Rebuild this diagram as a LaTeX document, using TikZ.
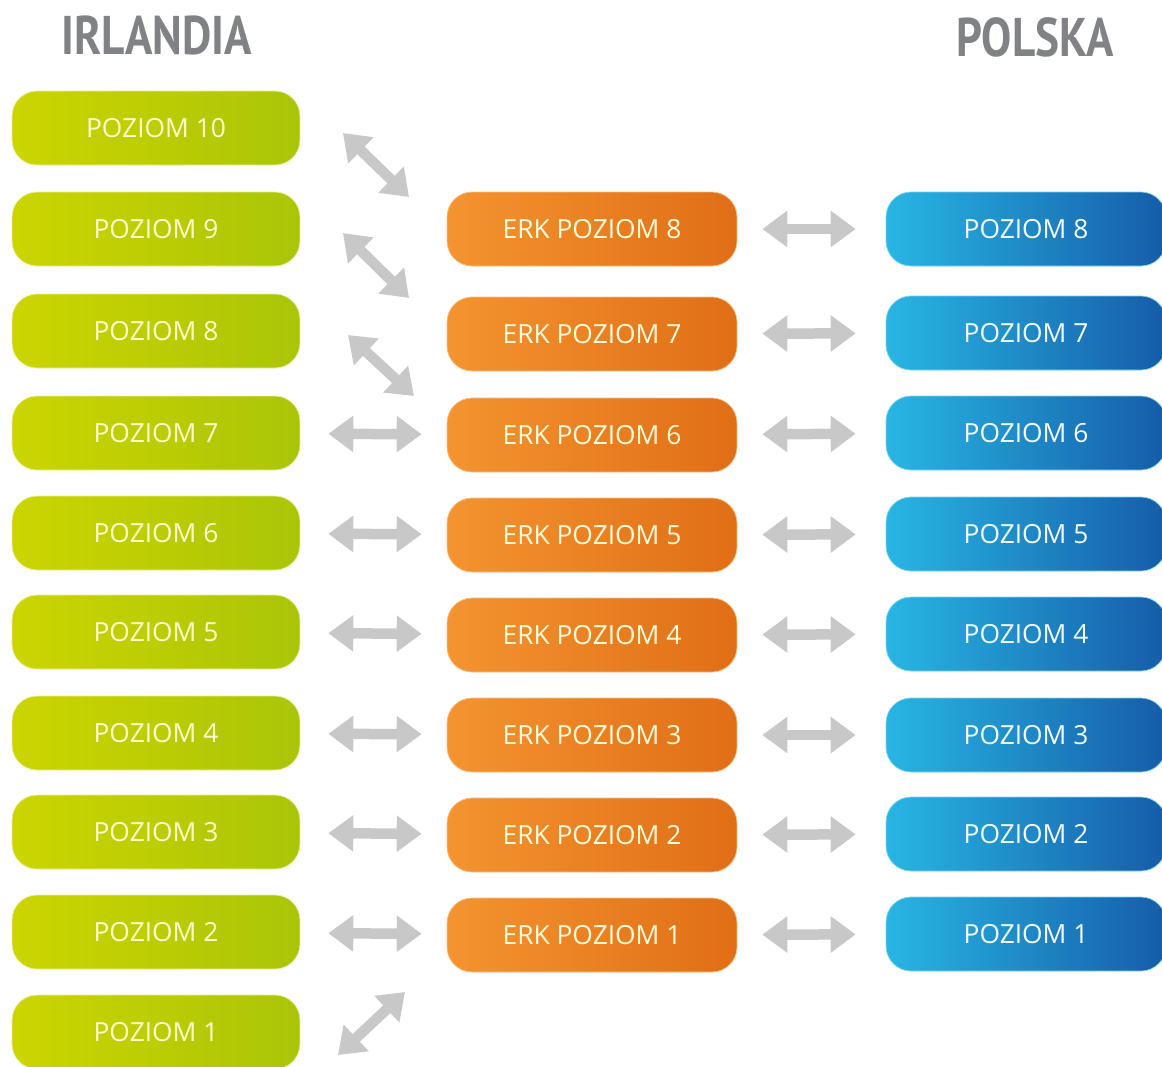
\documentclass[tikz,border=0pt]{standalone}
\usepackage{fontspec}
\setmainfont{Open Sans}
\newfontfamily\titlefont[FakeStretch=0.83]{PT Sans}
\usepackage{xcolor}
\usetikzlibrary{shapes, positioning, arrows.meta}

\definecolor{irlL}{RGB}{204,213,0}
\definecolor{irlR}{RGB}{170,197,8}
\definecolor{erkL}{RGB}{244,148,48}
\definecolor{erkR}{RGB}{224,110,22}
\definecolor{polL}{RGB}{40,182,228}
\definecolor{polR}{RGB}{22,92,168}
\definecolor{arrowgray}{RGB}{200,200,200}
\definecolor{titlegray}{RGB}{128,130,133}

\tikzset{
  box/.style={rectangle, rounded corners=0.5cm, minimum height=1.48cm, font=\fontsize{15}{18}\selectfont},
  irl/.style={box, minimum width=5.76cm, left color=irlL, right color=irlR, draw=irlL!40!white, text=yellow!20!white},
  erk/.style={box, minimum width=5.8cm, left color=erkL, right color=erkR, draw=erkL!60!white, text=yellow!15!white},
  pol/.style={box, minimum width=5.6cm, left color=polL, right color=polR, draw=polL!60!white, text=cyan!5!white},
  title/.style={text=titlegray, font=\titlefont\bfseries\fontsize{31}{34}\selectfont},
  link/.style={draw=arrowgray, line width=0.21cm,
    {Triangle[width=0.7cm,length=0.5cm]}-{Triangle[width=0.7cm,length=0.5cm]}},
  leftlink/.style={link, shorten <=0.56cm, shorten >=0.5cm},
  rightlink/.style={link, shorten <=0.5cm, shorten >=0.6cm}
}

\begin{document}
\begin{tikzpicture}[x=0.02cm, y=-0.02cm]
  \useasboundingbox (0,0) rectangle (1162,1066);

  \node[title] (irlandia) at (157,35) {IRLANDIA};
  \node[title] (polska) at (1035,37) {POLSKA};

  % Irlandia
  \node[irl] (G10) at (156,128) {POZIOM 10};
  \node[irl] (G9) at (156,229) {POZIOM 9};
  \node[irl] (G8) at (156,331) {POZIOM 8};
  \node[irl] (G7) at (156,433) {POZIOM 7};
  \node[irl] (G6) at (156,533) {POZIOM 6};
  \node[irl] (G5) at (156,632) {POZIOM 5};
  \node[irl] (G4) at (156,733) {POZIOM 4};
  \node[irl] (G3) at (156,832) {POZIOM 3};
  \node[irl] (G2) at (156,932) {POZIOM 2};
  \node[irl] (G1) at (156,1032) {POZIOM 1};

  % ERK
  \node[erk] (O8) at (592,229) {ERK POZIOM 8};
  \node[erk] (O7) at (592,334) {ERK POZIOM 7};
  \node[erk] (O6) at (592,435) {ERK POZIOM 6};
  \node[erk] (O5) at (592,535) {ERK POZIOM 5};
  \node[erk] (O4) at (592,635) {ERK POZIOM 4};
  \node[erk] (O3) at (592,735) {ERK POZIOM 3};
  \node[erk] (O2) at (592,835) {ERK POZIOM 2};
  \node[erk] (O1) at (592,935) {ERK POZIOM 1};

  % Polska
  \node[pol] (B8) at (1026,229) {POZIOM 8};
  \node[pol] (B7) at (1026,333) {POZIOM 7};
  \node[pol] (B6) at (1026,433) {POZIOM 6};
  \node[pol] (B5) at (1026,534) {POZIOM 5};
  \node[pol] (B4) at (1026,634) {POZIOM 4};
  \node[pol] (B3) at (1026,735) {POZIOM 3};
  \node[pol] (B2) at (1026,834) {POZIOM 2};
  \node[pol] (B1) at (1026,934) {POZIOM 1};

  % diagonal ends
  \coordinate (d10a) at (343,133);
  \coordinate (d10b) at (409,197);
  \coordinate (d9a) at (343,233);
  \coordinate (d9b) at (409,298);
  \coordinate (d8a) at (348,335);
  \coordinate (d8b) at (414,396);
  \coordinate (d1a) at (338,1055);
  \coordinate (d1b) at (405,992);

  \draw[link] (d10a) -- (d10b);
  \draw[link] (d9a) -- (d9b);
  \draw[link] (d8a) -- (d8b);
  \draw[link] (d1a) -- (d1b);

  \draw[leftlink] (G7) -- (O6);
  \draw[leftlink] (G6) -- (O5);
  \draw[leftlink] (G5) -- (O4);
  \draw[leftlink] (G4) -- (O3);
  \draw[leftlink] (G3) -- (O2);
  \draw[leftlink] (G2) -- (O1);

  \draw[rightlink] (O8) -- (B8);
  \draw[rightlink] (O7) -- (B7);
  \draw[rightlink] (O6) -- (B6);
  \draw[rightlink] (O5) -- (B5);
  \draw[rightlink] (O4) -- (B4);
  \draw[rightlink] (O3) -- (B3);
  \draw[rightlink] (O2) -- (B2);
  \draw[rightlink] (O1) -- (B1);

\end{tikzpicture}
\end{document}
